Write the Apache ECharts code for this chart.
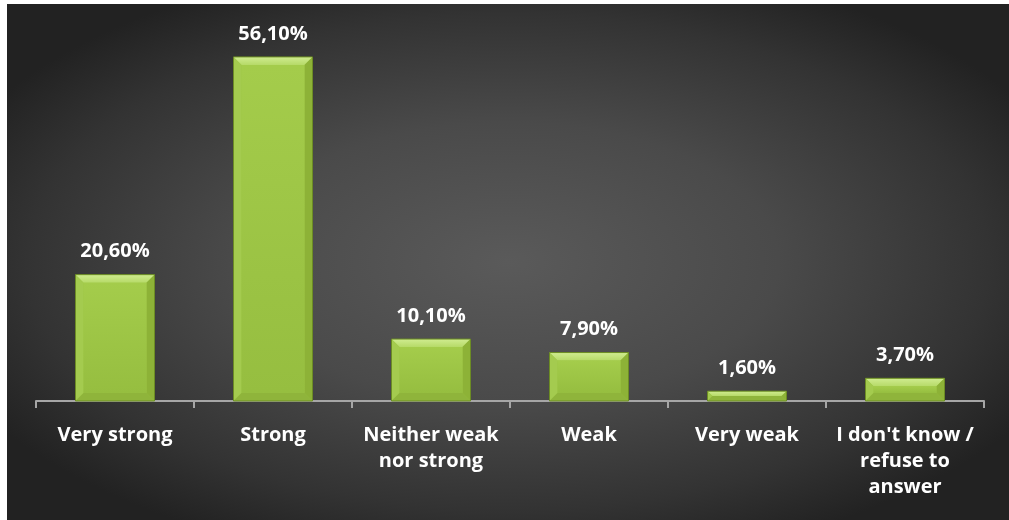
<!DOCTYPE html>
<html>
<head>
<meta charset="utf-8">
<script src="https://cdn.jsdelivr.net/npm/echarts@6/dist/echarts.min.js"></script>
<style>
  html, body { margin: 0; padding: 0; background: #ffffff; }
  #chart { width: 1009px; height: 520px; }
</style>
</head>
<body>
<div id="chart"></div>
<script>
// Survey answers and their shares (percent)
const categories = [
  'Very strong',
  'Strong',
  'Neither weak\nnor strong',
  'Weak',
  'Very weak',
  "I don't know /\nrefuse to\nanswer"
];
const shares = [20.6, 56.1, 10.1, 7.9, 1.6, 3.7];

const LABEL_FONT = 'Open Sans';
const LABEL_SIZE = 20;

const chart = echarts.init(document.getElementById('chart'));

// Bevelled bar: flat face, lighter top facet, darker side/bottom facets, value text on top
function renderBevelBar(params, api) {
  const idx = api.value(0);
  const val = api.value(1);
  const top = api.coord([idx, val]);
  const base = api.coord([idx, 0]);
  const bw = api.size([1, 0])[0] * 0.5;
  const x0 = top[0] - bw / 2, x1 = top[0] + bw / 2;
  const y0 = top[1], y1 = base[1];
  const h = y1 - y0;
  const b = Math.min(8, h / 2);
  return {
    type: 'group',
    children: [
      { type: 'rect', shape: { x: x0, y: y0, width: bw, height: h },
        style: { fill: '#9cc544' } },
      { type: 'polygon', shape: { points: [[x0, y0], [x1, y0], [x1 - b, y0 + b], [x0 + b, y0 + b]] },
        style: { fill: new echarts.graphic.LinearGradient(0, 0, 0, 1, [
          { offset: 0, color: '#d0ec90' }, { offset: 1, color: '#b6da68' }]) } },
      { type: 'polygon', shape: { points: [[x0, y0], [x0 + b, y0 + b], [x0 + b, y1 - b], [x0, y1]] },
        style: { fill: '#a4cb4f' } },
      { type: 'polygon', shape: { points: [[x1, y0], [x1 - b, y0 + b], [x1 - b, y1 - b], [x1, y1]] },
        style: { fill: '#8db237' } },
      { type: 'polygon', shape: { points: [[x0, y1], [x0 + b, y1 - b], [x1 - b, y1 - b], [x1, y1]] },
        style: { fill: '#8fb43b' } },
      { type: 'rect', shape: { x: x0 + b, y: y0 + b, width: Math.max(0, bw - 2 * b), height: Math.max(0, h - 2 * b) },
        style: { fill: new echarts.graphic.LinearGradient(0, 0, 0, 1, [
          { offset: 0, color: '#a4cc4b' }, { offset: 1, color: '#96be40' }]) } },
      { type: 'rect', shape: { x: x0, y: y0, width: bw, height: h },
        style: { fill: 'none', stroke: '#6c8c24', lineWidth: 1 } },
      { type: 'text',
        style: {
          x: top[0], y: y0 - 13,
          text: val.toFixed(2).replace('.', ',') + '%',
          fill: '#ffffff',
          font: 'bold ' + LABEL_SIZE + 'px "' + LABEL_FONT + '"',
          align: 'center', verticalAlign: 'bottom'
        } }
    ]
  };
}

const option = {
  backgroundColor: '#ffffff',
  animation: false,
  graphic: [
    {
      // dark panel with a soft elliptical highlight in the middle
      type: 'rect', z: -10, silent: true,
      x: 7, y: 4, scaleY: 516 / 1002,
      shape: { x: 0, y: 0, width: 1002, height: 1002 },
      style: {
        fill: new echarts.graphic.RadialGradient(0.5, 0.5, 0.6, [
          { offset: 0, color: '#5a5a5a' },
          { offset: 0.45, color: '#4a4a4a' },
          { offset: 0.8, color: '#333333' },
          { offset: 1, color: '#222222' }
        ])
      }
    }
  ],
  grid: { left: 36, right: 25, top: 33, bottom: 119, containLabel: false },
  xAxis: {
    type: 'category',
    data: categories,
    boundaryGap: true,
    axisLine: { lineStyle: { color: '#a6a6a6', width: 2 } },
    axisTick: { show: true, length: 7, lineStyle: { color: '#a6a6a6', width: 2 } },
    axisLabel: {
      color: '#ffffff',
      fontFamily: LABEL_FONT,
      fontWeight: 'bold',
      fontSize: LABEL_SIZE,
      lineHeight: 26,
      margin: 21,
      interval: 0
    }
  },
  yAxis: {
    type: 'value', min: 0, max: 60, show: false,
    splitLine: { show: false }
  },
  series: [
    {
      type: 'custom',
      renderItem: renderBevelBar,
      encode: { x: 0, y: 1 },
      data: shares.map((v, i) => [i, v])
    }
  ]
};

chart.setOption(option);
</script>
</body>
</html>
